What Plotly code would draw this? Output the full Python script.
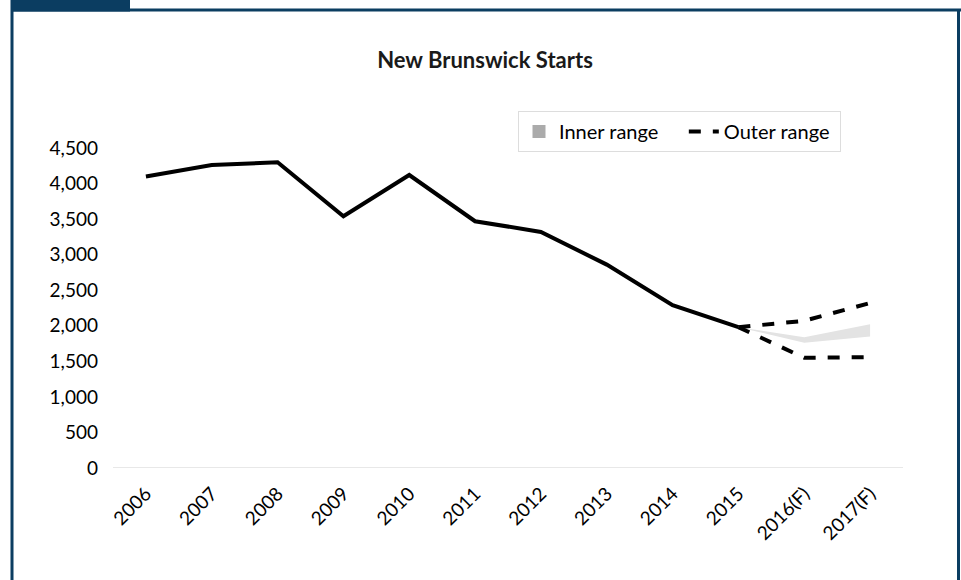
import plotly.graph_objects as go

years = ["2006", "2007", "2008", "2009", "2010", "2011", "2012", "2013", "2014", "2015", "2016(F)", "2017(F)"]
actual = [4100, 4260, 4300, 3540, 4120, 3470, 3320, 2860, 2290, 1980]
fc_years = ["2015", "2016(F)", "2017(F)"]
outer_high = [1980, 2070, 2320]
outer_low = [1980, 1550, 1560]
inner_high = [1980, 1840, 2020]
inner_low = [1980, 1760, 1850]
y_ticks = [0, 500, 1000, 1500, 2000, 2500, 3000, 3500, 4000, 4500]

W, H = 961, 580
L, R, T, B = 113, 903, 148, 468
def px(x):
    return (x - L) / (R - L)
def py(y):
    return (B - y) / (B - T)

navy = "#0b3d61"
font = "Lato, 'Open Sans', sans-serif"

fig = go.Figure()
fig.add_trace(go.Scatter(x=fc_years, y=inner_low, mode="lines", line=dict(width=0, color="#e3e3e3"),
                         showlegend=False, hoverinfo="skip"))
fig.add_trace(go.Scatter(x=fc_years, y=inner_high, mode="lines", line=dict(width=0, color="#e3e3e3"),
                         fill="tonexty", fillcolor="#e3e3e3", showlegend=False, hoverinfo="skip"))
fig.add_trace(go.Scatter(x=[None], y=[None], mode="markers", name="Inner range\u00a0\u00a0\u00a0\u00a0", legendrank=1,
                         marker=dict(symbol="square", size=13, color="#ababab")))
fig.add_trace(go.Scatter(x=fc_years, y=outer_high, mode="lines", name="Outer range\u00a0", legendrank=2,
                         line=dict(color="black", width=4, dash="dash")))
fig.add_trace(go.Scatter(x=fc_years, y=outer_low, mode="lines", showlegend=False,
                         line=dict(color="black", width=4, dash="dash")))
fig.add_trace(go.Scatter(x=years[:len(actual)], y=actual, mode="lines", showlegend=False,
                         line=dict(color="black", width=4)))

shapes = [
    dict(type="line", xref="paper", yref="paper", x0=px(12), x1=px(12), y0=py(0), y1=py(580),
         line=dict(color=navy, width=3)),
    dict(type="line", xref="paper", yref="paper", x0=px(12), x1=px(961), y0=py(10), y1=py(10),
         line=dict(color=navy, width=3)),
    dict(type="line", xref="paper", yref="paper", x0=px(958.5), x1=px(958.5), y0=py(9), y1=py(580),
         line=dict(color=navy, width=3)),
    dict(type="rect", xref="paper", yref="paper", x0=px(11), x1=px(130), y0=py(0), y1=py(11.5),
         fillcolor=navy, line=dict(width=0)),
]

fig.update_layout(
    width=W, height=H,
    margin=dict(l=L, r=W - R, t=T, b=H - B),
    paper_bgcolor="white", plot_bgcolor="white",
    font=dict(family=font, size=19, color="black"),
    title=dict(text="<b>New Brunswick Starts</b>", x=485 / W, xanchor="center",
               y=1 - 60 / H, yanchor="middle", font=dict(size=22, color="#1a1a1a")),
    shapes=shapes,
    showlegend=True,
    legend=dict(orientation="h", x=px(518), xanchor="left", y=py(111), yanchor="top",
                bordercolor="#dddddd", borderwidth=1, bgcolor="white",
                font=dict(size=20), itemwidth=30, traceorder="normal"),
    xaxis=dict(type="category", categoryorder="array", categoryarray=years, tickangle=-45,
               showgrid=False, showline=False, zeroline=False, ticks="", tickfont=dict(size=19),
               range=[-0.5, len(years) - 0.5], ticklabelstandoff=10),
    yaxis=dict(range=[0, 4500], tickvals=y_ticks, tickformat=",", showgrid=False, zeroline=False,
               showline=False, ticks="", tickfont=dict(size=19), ticklabelstandoff=14),
)
fig.add_shape(type="line", xref="paper", yref="y", x0=0, x1=1, y0=0, y1=0,
              line=dict(color="#e0e0e0", width=1.5), layer="below")

fig.write_html("out.html")
